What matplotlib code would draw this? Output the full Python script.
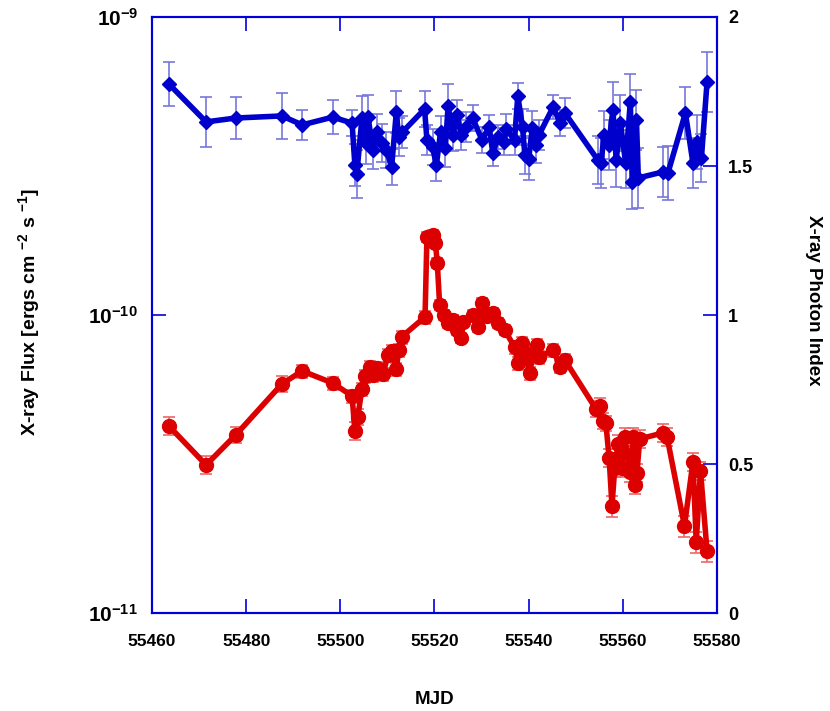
import numpy as np
import matplotlib
matplotlib.use("Agg")
import matplotlib.pyplot as plt
from matplotlib.ticker import FixedLocator, FuncFormatter

plt.rcParams['font.family'] = ['Liberation Sans', 'DejaVu Sans']
plt.rcParams['mathtext.fontset'] = 'custom'
plt.rcParams['mathtext.rm'] = 'Liberation Sans:bold'
plt.rcParams['mathtext.bf'] = 'Liberation Sans:bold'

# X-ray flux (left, log axis)
flux_mjd = [55463.6, 55471.5, 55477.8, 55487.6, 55491.9, 55498.4, 55502.5, 55503.1,
            55503.7, 55504.6, 55505.3, 55506.3, 55506.9, 55507.9, 55509.1, 55510.1,
            55510.9, 55511.9, 55512.4, 55513.0, 55518.0, 55518.4, 55519.6, 55520.2,
            55520.6, 55521.1, 55522.1, 55522.9, 55523.9, 55524.8, 55525.7, 55526.1,
            55528.1, 55529.2, 55530.1, 55531.2, 55532.4, 55533.5, 55534.9, 55537.0,
            55537.7, 55538.6, 55539.2, 55540.3, 55540.8, 55541.8, 55542.2, 55545.2,
            55546.7, 55547.7, 55554.3, 55555.1, 55555.8, 55556.4, 55557.1, 55557.7,
            55558.3, 55559.0, 55559.8, 55560.4, 55561.5, 55562.2, 55562.6, 55563.0,
            55563.6, 55568.5, 55569.4, 55573.1, 55574.9, 55575.6, 55576.5, 55577.9]
flux = [4.24e-11, 3.14e-11, 3.96e-11, 5.87e-11, 6.49e-11, 5.91e-11, 5.35e-11, 4.08e-11,
        4.55e-11, 5.65e-11, 6.24e-11, 6.70e-11, 6.29e-11, 6.64e-11, 6.34e-11, 7.34e-11,
        7.57e-11, 6.59e-11, 7.63e-11, 8.44e-11, 9.85e-11, 1.83e-10, 1.855e-10, 1.745e-10,
        1.494e-10, 1.081e-10, 1.00e-10, 9.40e-11, 9.62e-11, 8.91e-11, 8.37e-11, 9.47e-11,
        1.00e-10, 9.12e-11, 1.097e-10, 9.89e-11, 1.016e-10, 9.40e-11, 8.91e-11, 7.81e-11,
        6.90e-11, 8.05e-11, 7.45e-11, 6.39e-11, 7.34e-11, 7.93e-11, 7.23e-11, 7.63e-11,
        6.70e-11, 7.06e-11, 4.84e-11, 4.95e-11, 4.41e-11, 4.34e-11, 3.31e-11, 2.29e-11,
        3.07e-11, 3.69e-11, 3.07e-11, 3.90e-11, 2.97e-11, 3.90e-11, 2.69e-11, 2.95e-11,
        3.84e-11, 4.02e-11, 3.90e-11, 1.96e-11, 3.21e-11, 1.73e-11, 3.00e-11, 1.61e-11]
flux_relerr = [0.07, 0.07, 0.06, 0.06, 0.05, 0.05, 0.05, 0.07,
               0.06, 0.05, 0.05, 0.05, 0.05, 0.05, 0.05, 0.05,
               0.05, 0.05, 0.05, 0.05, 0.05, 0.04, 0.04, 0.04,
               0.04, 0.04, 0.04, 0.04, 0.04, 0.04, 0.04, 0.04,
               0.04, 0.04, 0.04, 0.04, 0.04, 0.04, 0.04, 0.05,
               0.05, 0.05, 0.05, 0.05, 0.05, 0.05, 0.05, 0.05,
               0.05, 0.05, 0.06, 0.06, 0.06, 0.06, 0.07, 0.08,
               0.07, 0.07, 0.07, 0.07, 0.07, 0.07, 0.07, 0.07,
               0.07, 0.07, 0.07, 0.08, 0.07, 0.08, 0.07, 0.08]

# photon index (right, linear axis)
idx_mjd = [55463.6, 55471.5, 55477.8, 55487.6, 55491.9, 55498.4, 55502.5, 55503.1,
           55503.5, 55504.6, 55505.4, 55505.9, 55506.9, 55507.9, 55508.9, 55509.8,
           55510.9, 55511.9, 55512.4, 55513.2, 55517.9, 55518.4, 55519.6, 55520.4,
           55521.3, 55522.3, 55522.9, 55523.9, 55524.8, 55525.7, 55526.6, 55528.1,
           55530.1, 55531.6, 55532.4, 55533.5, 55534.8, 55535.2, 55537.0, 55537.7,
           55538.7, 55539.2, 55540.0, 55540.8, 55541.6, 55542.2, 55545.2, 55546.7,
           55547.7, 55554.7, 55555.4, 55556.0, 55557.0, 55557.9, 55558.6, 55559.5,
           55560.6, 55561.6, 55562.0, 55562.9, 55563.3, 55568.5, 55569.6, 55573.3,
           55574.9, 55575.8, 55576.7, 55577.9]
idx = [1.775, 1.648, 1.661, 1.668, 1.638, 1.664, 1.644, 1.503,
       1.473, 1.661, 1.577, 1.664, 1.554, 1.614, 1.577, 1.554,
       1.497, 1.681, 1.597, 1.614, 1.691, 1.587, 1.564, 1.503,
       1.614, 1.560, 1.701, 1.604, 1.671, 1.604, 1.631, 1.661,
       1.587, 1.631, 1.544, 1.597, 1.581, 1.624, 1.587, 1.735,
       1.631, 1.537, 1.523, 1.628, 1.570, 1.604, 1.698, 1.644,
       1.678, 1.520, 1.510, 1.604, 1.570, 1.688, 1.520, 1.644,
       1.510, 1.715, 1.446, 1.654, 1.460, 1.480, 1.477, 1.678,
       1.510, 1.581, 1.527, 1.782]
idx_err = [0.075, 0.084, 0.070, 0.078, 0.050, 0.057, 0.045, 0.070,
           0.080, 0.075, 0.070, 0.075, 0.065, 0.060, 0.065, 0.060,
           0.060, 0.070, 0.065, 0.055, 0.060, 0.050, 0.060, 0.055,
           0.055, 0.065, 0.075, 0.055, 0.050, 0.050, 0.050, 0.045,
           0.045, 0.040, 0.045, 0.040, 0.045, 0.050, 0.050, 0.045,
           0.060, 0.065, 0.070, 0.055, 0.060, 0.050, 0.040, 0.045,
           0.050, 0.080, 0.085, 0.080, 0.085, 0.095, 0.090, 0.095,
           0.085, 0.095, 0.090, 0.100, 0.100, 0.085, 0.090, 0.087,
           0.085, 0.090, 0.080, 0.100]

blue = '#0000CC'
red = '#DD0000'
spine_col = '#0000DD'

fig = plt.figure(figsize=(8.3, 7.11), dpi=100)
ax = fig.add_axes([0.1831, 0.1378, 0.6807, 0.8383])
ax2 = ax.twinx()

flux = np.array(flux)
ferr = flux * np.array(flux_relerr)
ax.errorbar(flux_mjd, flux, yerr=ferr, fmt='none', ecolor='#EE6666',
            elinewidth=1.2, capsize=4, capthick=1.2, zorder=2)
ax.plot(flux_mjd, flux, '-o', color=red, lw=4, ms=10, zorder=3)

ax2.errorbar(idx_mjd, idx, yerr=idx_err, fmt='none', ecolor='#7777DD',
             elinewidth=1.2, capsize=4, capthick=1.2, zorder=2)
ax2.plot(idx_mjd, idx, '-D', color=blue, lw=4, ms=7, zorder=3)

ax.set_xlim(55460, 55580)
ax.set_yscale('log')
ax.set_ylim(1e-11, 1e-9)
ax2.set_ylim(0, 2)

ax.xaxis.set_major_locator(FixedLocator(np.arange(55460, 55581, 20)))
ax.yaxis.set_major_locator(FixedLocator([1e-11, 1e-10, 1e-9]))
ax.yaxis.set_minor_locator(FixedLocator([]))
ax.yaxis.set_major_formatter(FuncFormatter(
    lambda v, p: r'$\mathbf{10^{%d}}$' % int(round(np.log10(v)))))
ax2.yaxis.set_major_locator(FixedLocator([0, 0.5, 1, 1.5, 2]))
ax2.yaxis.set_major_formatter(FuncFormatter(lambda v, p: '%g' % v))

for a in (ax, ax2):
    for s in a.spines.values():
        s.set_color(spine_col)
        s.set_linewidth(1.5)

ax.tick_params(axis='x', direction='in', length=10, width=1.2, color=spine_col,
               top=True, labelsize=12.5, pad=15)
ax.tick_params(axis='y', direction='in', length=10, width=1.2, color=spine_col,
               labelsize=15, pad=10)
ax2.tick_params(axis='y', direction='in', length=10, width=1.2, color=spine_col,
                labelsize=13, pad=8)
for lab in ax.get_xticklabels() + ax2.get_yticklabels():
    lab.set_fontweight('bold')

ax.set_xlabel('MJD', fontsize=13.5, fontweight='bold', labelpad=30)
ax.set_ylabel(r'X-ray Flux [ergs cm $^{-2}$ s $^{-1}$]', fontsize=14,
              fontweight='bold')
ax.yaxis.set_label_coords(-0.193, 0.505)
ax2.set_ylabel('X-ray Photon Index', fontsize=13.5, fontweight='bold',
               rotation=270)
ax2.yaxis.set_label_coords(1.186, 0.525)

fig.savefig('out.png', dpi=100)
